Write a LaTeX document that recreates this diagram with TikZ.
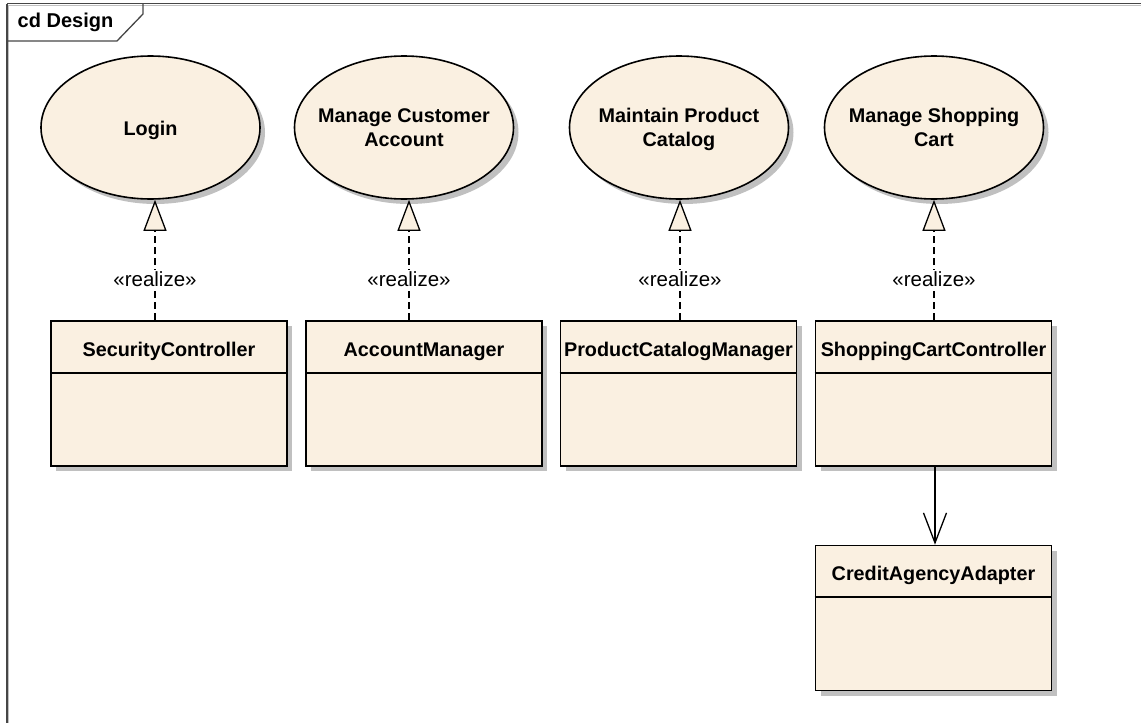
\documentclass[tikz,border=0pt]{standalone}
\usepackage{fontspec}
\setmainfont{Liberation Sans}
\usetikzlibrary{shapes.geometric, shadows, arrows.meta}
\definecolor{umlfill}{RGB}{250,240,225}
\definecolor{umlshadow}{RGB}{192,192,192}
\definecolor{framegray}{RGB}{70,70,70}

\begin{document}
\begin{tikzpicture}[x=1pt, y=-1pt,
  umlshade/.style={drop shadow={shadow xshift=5pt, shadow yshift=-5pt, fill=umlshadow, opacity=1}},
  usecase/.style={ellipse, draw=black, line width=1.6pt, fill=umlfill,
    minimum width=219pt, minimum height=143pt, inner sep=0pt, umlshade},
  uctext/.style={anchor=base, align=center, inner sep=0pt,
    font=\bfseries\fontsize{19.8}{24}\selectfont},
  classbox/.style={rectangle, draw=black, line width=1.6pt, fill=umlfill,
    minimum width=236pt, minimum height=145pt, inner sep=0pt, umlshade},
  classname/.style={anchor=base, font=\bfseries\fontsize{19.8}{24}\selectfont, inner sep=0pt},
  realize/.style={line width=1.3pt, dash pattern=on 7pt off 4pt,
    -{Triangle[length=31pt, width=23pt, fill=umlfill, line width=1.3pt]}},
  stereo/.style={fill=white, inner sep=1.5pt, font=\fontsize{20.5}{22}\selectfont},
  assoc/.style={line width=1.3pt, -{Straight Barb[length=30pt, width=23pt, line width=1.3pt]}},
  compline/.style={line width=1.6pt}
]
\useasboundingbox (0,0) rectangle (1141,723);

% diagram frame with its name tab
\draw[umlshadow, line width=1pt] (8.8,5) -- (1141,5) (8.8,5) -- (8.8,723);
\draw[framegray, line width=1.3pt] (7,3.5) -- (1141,3.5) (7,3.5) -- (7,723);
\draw[framegray, line width=1.3pt] (143,3.5) -- (143,14) -- (117,41) -- (7,41);
\node[font=\bfseries\fontsize{20}{24}\selectfont, inner sep=0pt] (title) at (65.5,22) {cd Design};

% use cases (the last text line sits on the given baseline)
\node[usecase] (login) at (150.5,127.5) {};
\node[usecase] (mca) at (404,127.5) {};
\node[usecase] (mpc) at (679,127.5) {};
\node[usecase] (msc) at (934,127.5) {};
\node[uctext] (login-t) at (150.5,135) {Login};
\node[uctext] (mca-t) at (404,146) {Manage Customer\\Account};
\node[uctext] (mpc-t) at (679,146) {Maintain Product\\Catalog};
\node[uctext] (msc-t) at (934,146) {Manage Shopping\\Cart};

% classes
\node[classbox] (sc) at (169,393.5) {};
\node[classbox] (am) at (424,393.5) {};
\node[classbox] (pcm) at (678.5,393.5) {};
\node[classbox] (scc) at (933.5,393.5) {};
\node[classbox] (caa) at (933.5,618) {};

\foreach \c/\t in {sc/SecurityController, am/AccountManager, pcm/ProductCatalogManager,
                   scc/ShoppingCartController, caa/CreditAgencyAdapter}{
  \node[classname] (\c-name) at ([yshift=-36pt]\c.north) {\t};
  \draw[compline] ([yshift=-52.5pt]\c.north west) -- ([yshift=-52.5pt]\c.north east);
}

% realization links
\coordinate (r1) at (155,0);
\coordinate (r2) at (409,0);
\coordinate (r3) at (680,0);
\coordinate (r4) at (934,0);
\draw[realize] (sc.north -| r1) -- node[stereo, pos=0.34] (s1) {«realize»} (login.south -| r1);
\draw[realize] (am.north -| r2) -- node[stereo, pos=0.34] (s2) {«realize»} (mca.south -| r2);
\draw[realize] (pcm.north -| r3) -- node[stereo, pos=0.34] (s3) {«realize»} (mpc.south -| r3);
\draw[realize] (scc.north -| r4) -- node[stereo, pos=0.34] (s4) {«realize»} (msc.south -| r4);

% directed association
\coordinate (a1) at (935,0);
\draw[assoc] (scc.south -| a1) -- (caa.north -| a1);
\end{tikzpicture}
\end{document}
